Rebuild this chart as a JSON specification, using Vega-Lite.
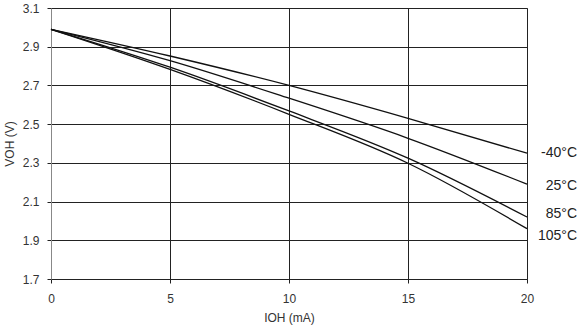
{
  "$schema": "https://vega.github.io/schema/vega-lite/v6.json",
  "autosize": {"type": "none"},
  "padding": {"left": 51, "top": 8, "right": 54, "bottom": 52},
  "width": 476,
  "height": 271,
  "background": "white",
  "config": {
    "font": "Liberation Sans",
    "view": {"stroke": "#888", "strokeWidth": 1},
    "axis": {
      "gridColor": "#222",
      "gridOpacity": 1,
      "gridWidth": 1,
      "domainColor": "#888",
      "tickColor": "#222",
      "tickSize": 4,
      "labelFont": "Liberation Sans",
      "labelFontSize": 12,
      "labelColor": "#333",
      "labelOverlap": false,
      "labelFlush": false,
      "titleFont": "Liberation Sans",
      "titleFontSize": 12,
      "titleFontWeight": "normal",
      "titleColor": "#333"
    }
  },
  "datasets": {
    "curves": [
      {"I": 0, "V": 2.99, "T": "-40°C"},
      {"I": 5, "V": 2.852, "T": "-40°C"},
      {"I": 10, "V": 2.70, "T": "-40°C"},
      {"I": 15, "V": 2.530, "T": "-40°C"},
      {"I": 20, "V": 2.35, "T": "-40°C"},
      {"I": 0, "V": 2.99, "T": "25°C"},
      {"I": 5, "V": 2.828, "T": "25°C"},
      {"I": 10, "V": 2.634, "T": "25°C"},
      {"I": 15, "V": 2.427, "T": "25°C"},
      {"I": 20, "V": 2.19, "T": "25°C"},
      {"I": 0, "V": 2.99, "T": "85°C"},
      {"I": 5, "V": 2.794, "T": "85°C"},
      {"I": 10, "V": 2.568, "T": "85°C"},
      {"I": 15, "V": 2.324, "T": "85°C"},
      {"I": 20, "V": 2.02, "T": "85°C"},
      {"I": 0, "V": 2.99, "T": "105°C"},
      {"I": 5, "V": 2.783, "T": "105°C"},
      {"I": 10, "V": 2.551, "T": "105°C"},
      {"I": 15, "V": 2.298, "T": "105°C"},
      {"I": 20, "V": 1.96, "T": "105°C"}
    ],
    "labels": [
      {"I": 20, "V": 2.35, "T": "-40°C"},
      {"I": 20, "V": 2.18, "T": "25°C"},
      {"I": 20, "V": 2.036, "T": "85°C"},
      {"I": 20, "V": 1.92, "T": "105°C"}
    ]
  },
  "layer": [
    {
      "data": {"name": "curves"},
      "mark": {"type": "line", "color": "#111", "strokeWidth": 1.3, "interpolate": "monotone"},
      "encoding": {
        "x": {
          "field": "I", "type": "quantitative",
          "scale": {"domain": [0, 20], "nice": false},
          "axis": {"values": [0, 5, 10, 15, 20], "tickCount": 10, "title": "IOH (mA)", "labelPadding": 10, "titlePadding": 8, "domainColor": "#222"}
        },
        "y": {
          "field": "V", "type": "quantitative",
          "scale": {"domain": [1.7, 3.1], "nice": false, "zero": false},
          "axis": {"values": [1.7, 1.9, 2.1, 2.3, 2.5, 2.7, 2.9, 3.1], "tickCount": 20, "format": ".1f", "title": "VOH (V)", "labelPadding": 8, "titlePadding": 6}
        },
        "detail": {"field": "T", "type": "nominal"}
      }
    },
    {
      "data": {"name": "labels"},
      "mark": {"type": "text", "align": "right", "baseline": "middle", "dx": 50, "fontSize": 14, "color": "#222", "font": "Liberation Sans"},
      "encoding": {
        "x": {"field": "I", "type": "quantitative"},
        "y": {"field": "V", "type": "quantitative"},
        "text": {"field": "T", "type": "nominal"}
      }
    }
  ]
}
